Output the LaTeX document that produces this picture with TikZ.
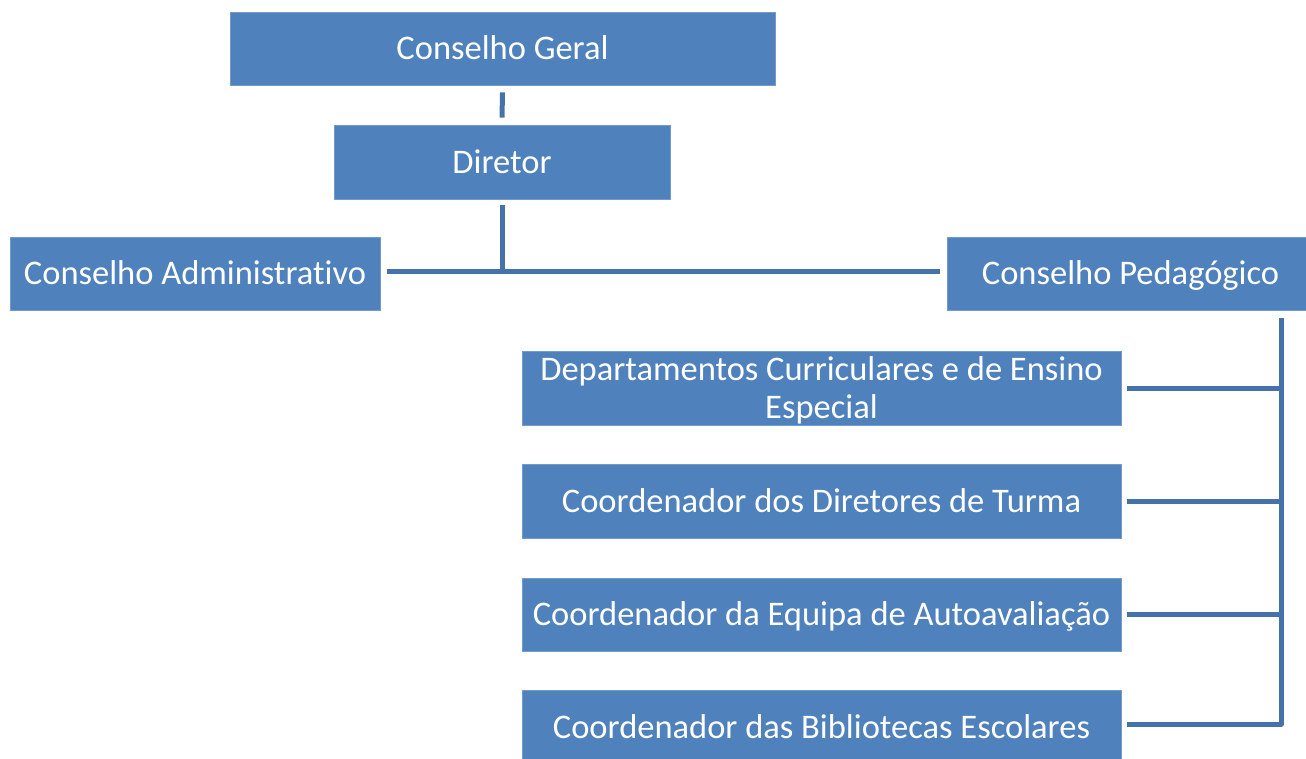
\documentclass[tikz,border=0pt]{standalone}
\usepackage{fontspec}
\setmainfont{Carlito}[Ligatures=CommonOff]
\definecolor{boxblue}{HTML}{4F81BD}
\definecolor{lineblue}{HTML}{4672AA}
\begin{document}
\begin{tikzpicture}[x=1pt,y=-1pt,
  box/.style={fill=boxblue, draw=boxblue!80!white, line width=0.8pt, text=white, font=\fontsize{34.5}{38.5}\selectfont, align=center, inner sep=0pt, anchor=center},
  oneline/.style={box, text height=22pt, text depth=0pt},
  conn/.style={draw=lineblue, line width=5pt, line join=round}]
\useasboundingbox (0,0) rectangle (1306,758);
\node[oneline, minimum width=545pt, minimum height=73pt] (cg) at (502.5,48.5) {Conselho Geral};
\node[oneline, minimum width=336pt, minimum height=74pt] (dir) at (502,162) {Diretor};
\node[oneline, minimum width=370pt, minimum height=73pt] (ca) at (195,273.5) {Conselho Administrativo};
\node[oneline, minimum width=367pt, minimum height=73pt] (cp) at (1130.5,273.5) {Conselho Pedagógico};
\node[box, minimum width=599pt, minimum height=74pt] (dep) at (821.5,388) {\raisebox{-2.5pt}[\height][\depth]{\parbox{599pt}{\centering Departamentos Curriculares e de Ensino\\Especial}}};
\node[oneline, minimum width=599pt, minimum height=74pt] (cdt) at (821.5,501) {Coordenador dos Diretores de Turma};
\node[oneline, minimum width=599pt, minimum height=73pt] (cea) at (821.5,614.5) {Coordenador da Equipa de Autoavaliação};
\node[oneline, minimum width=599pt, minimum height=74pt] (cbe) at (821.5,727) {Coordenador das Bibliotecas Escolares};
\coordinate (j) at (502,271);
\coordinate (bus) at (1281,318);
\coordinate (bend) at ([yshift=3pt]bus |- cbe.east);
\draw[conn] ([yshift=-7pt]cg.south) -- ([yshift=7pt]dir.north);
\draw[conn] ([yshift=-6pt]dir.south) -- (j);
\draw[conn] ([xshift=7pt]ca.east |- j) -- ([xshift=-7pt]cp.west |- j);
\draw[conn] (bus) -- (bend) -- ([xshift=6pt]cbe.east |- bend);
\draw[conn] ([xshift=6pt]dep.east) -- (bus |- dep.east);
\draw[conn] ([xshift=6pt]cdt.east) -- (bus |- cdt.east);
\draw[conn] ([xshift=6pt]cea.east) -- (bus |- cea.east);
\end{tikzpicture}
\end{document}
